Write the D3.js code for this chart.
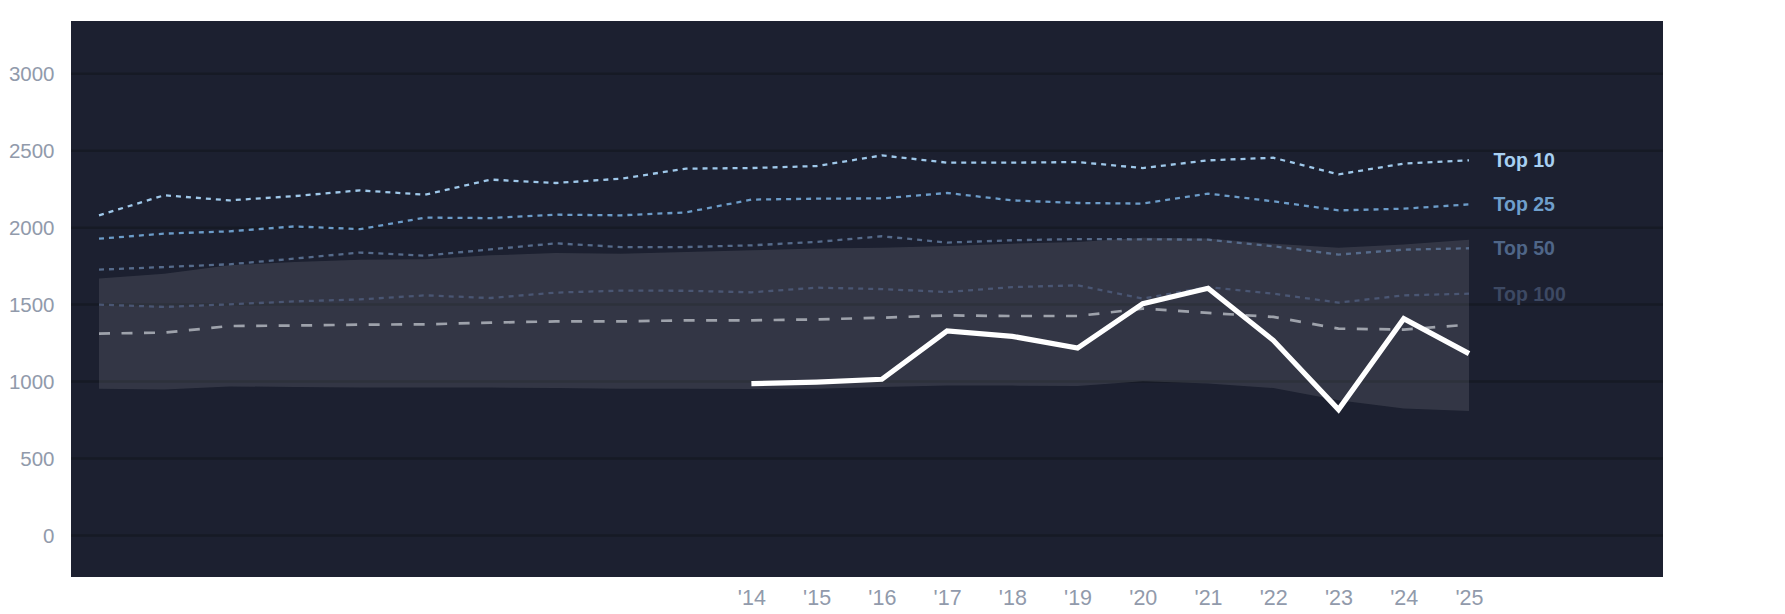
<!DOCTYPE html>
<html>
<head>
<meta charset="utf-8">
<script src="https://cdn.jsdelivr.net/npm/d3@7"></script>
<style>
  html, body { margin: 0; padding: 0; background: #ffffff; }
  svg { display: block; }
  text { font-family: "Liberation Sans", Arial, Helvetica, sans-serif; }
</style>
</head>
<body>
<svg id="chart" width="1785" height="614"></svg>
<script>
const years = [2004,2005,2006,2007,2008,2009,2010,2011,2012,2013,2014,2015,2016,2017,2018,2019,2020,2021,2022,2023,2024,2025];
const top10  = [2080,2210,2177,2205,2242,2214,2312,2290,2318,2383,2387,2400,2469,2422,2422,2426,2387,2437,2454,2346,2416,2437];
const top25  = [1928,1961,1976,2008,1990,2065,2062,2084,2080,2099,2182,2188,2190,2225,2177,2160,2156,2221,2171,2112,2123,2151];
const top50  = [1727,1744,1762,1799,1838,1818,1859,1898,1874,1874,1885,1907,1944,1903,1918,1926,1924,1922,1879,1825,1857,1866];
const top100 = [1500,1485,1502,1521,1534,1560,1543,1578,1591,1590,1580,1610,1601,1582,1614,1625,1539,1614,1571,1513,1560,1571];
const median = [1312,1318,1361,1364,1370,1372,1383,1391,1391,1398,1398,1404,1415,1430,1426,1426,1474,1446,1420,1344,1338,1370];
const bandHigh = [1669,1701,1755,1777,1792,1794,1820,1835,1831,1842,1853,1864,1870,1881,1896,1907,1935,1929,1895,1870,1890,1922];
const bandLow  = [954,948,969,965,961,961,961,958,954,954,952,954,965,974,974,972,1002,987,958,879,825,809];
const playerYears  = [2014,2015,2016,2017,2018,2019,2020,2021,2022,2023,2024,2025];
const playerValues = [987,997,1015,1329,1294,1218,1506,1606,1268,818,1409,1182];
const yTicks = [0,500,1000,1500,2000,2500,3000];
const xTicks = [2014,2015,2016,2017,2018,2019,2020,2021,2022,2023,2024,2025];
const seriesLabels = ["Top 10","Top 25","Top 50","Top 100"];

const svg = d3.select("#chart");
const plot = {left: 71, right: 1663, top: 21, bottom: 577};

const x = d3.scaleLinear().domain([2004, 2025]).range([99, 1469]);
const y = d3.scaleLinear().domain([-269, 3342]).range([plot.bottom, plot.top]);

// background
svg.append("rect")
  .attr("x", plot.left).attr("y", plot.top)
  .attr("width", plot.right - plot.left).attr("height", plot.bottom - plot.top)
  .attr("fill", "#1c2030");

// gridlines
svg.append("g").selectAll("line").data(yTicks).join("line")
  .attr("x1", plot.left).attr("x2", plot.right)
  .attr("y1", d => y(d)).attr("y2", d => y(d))
  .attr("stroke", "#161a25").attr("stroke-width", 2.5);

// band
const bandData = years.map((yr, i) => ({yr, lo: bandLow[i], hi: bandHigh[i]}));
svg.append("path")
  .datum(bandData)
  .attr("d", d3.area().x(d => x(d.yr)).y0(d => y(d.lo)).y1(d => y(d.hi)))
  .attr("fill", "#ffffff").attr("fill-opacity", 0.1);

const line = d3.line().x(d => x(d[0])).y(d => y(d[1]));
function series(vals, yrs) { return yrs.map((yr, i) => [yr, vals[i]]); }

const dotted = [
  {vals: top100, color: "#4a5673", label: "Top 100", labelColor: "#3d4963"},
  {vals: top50,  color: "#566b8b", label: "Top 50",  labelColor: "#4f6688"},
  {vals: top25,  color: "#6c9cc9", label: "Top 25",  labelColor: "#6f9fcc"},
  {vals: top10,  color: "#9fc8ea", label: "Top 10",  labelColor: "#a8d0f2"}
];

dotted.forEach(s => {
  svg.append("path")
    .datum(series(s.vals, years))
    .attr("d", line)
    .attr("fill", "none")
    .attr("stroke", s.color)
    .attr("stroke-width", 2.3)
    .attr("stroke-dasharray", "5,5");
});

// median
svg.append("path")
  .datum(series(median, years))
  .attr("d", line)
  .attr("fill", "none")
  .attr("stroke", "#9ea2ab")
  .attr("stroke-width", 2.7)
  .attr("stroke-dasharray", "11,11.5");

// player line
svg.append("path")
  .datum(series(playerValues, playerYears))
  .attr("d", line)
  .attr("fill", "none")
  .attr("stroke", "#ffffff")
  .attr("stroke-width", 5.2)
  .attr("stroke-linejoin", "miter");

// labels
dotted.forEach(s => {
  svg.append("text")
    .attr("x", x(2025) + 24.5)
    .attr("y", y(s.vals[s.vals.length - 1]))
    .attr("dy", "0.36em")
    .attr("fill", s.labelColor)
    .attr("font-size", "19.5px")
    .attr("font-weight", "bold")
    .text(s.label);
});

// axes
const yAxis = svg.append("g")
  .attr("transform", `translate(${plot.left},0)`)
  .call(d3.axisLeft(y).tickValues(yTicks).tickSize(0).tickPadding(16.5).tickFormat(d3.format("d")));
yAxis.select(".domain").remove();
yAxis.selectAll("text").attr("fill", "#919aab").attr("font-size", "20.5px")
  .attr("font-family", "'Liberation Sans', Arial, sans-serif");

const xAxis = svg.append("g")
  .attr("transform", `translate(0,${plot.bottom})`)
  .call(d3.axisBottom(x).tickValues(xTicks).tickSize(0).tickPadding(13)
    .tickFormat(d => "'" + String(d).slice(2)));
xAxis.select(".domain").remove();
xAxis.selectAll("text").attr("fill", "#919aab").attr("font-size", "21.5px")
  .attr("font-family", "'Liberation Sans', Arial, sans-serif");
</script>
</body>
</html>
